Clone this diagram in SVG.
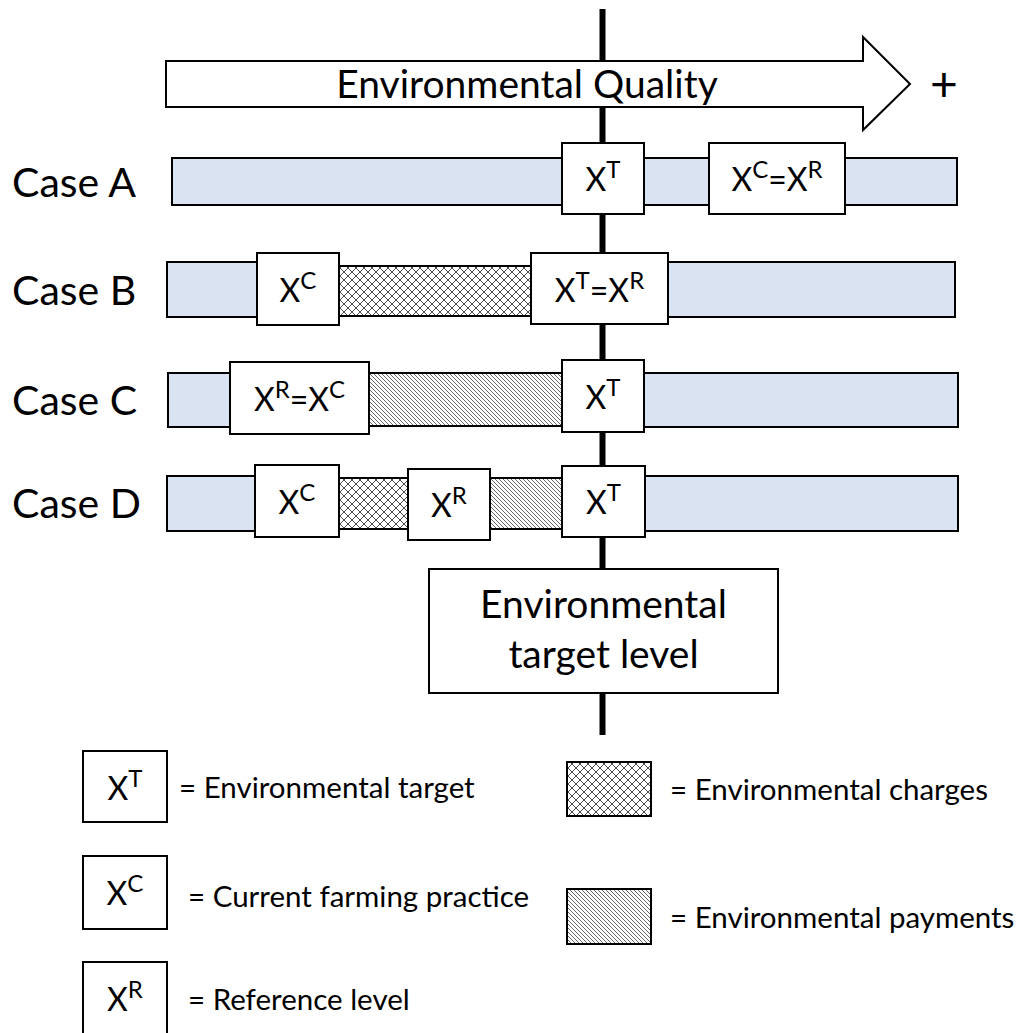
<svg xmlns="http://www.w3.org/2000/svg" width="1018" height="1033" viewBox="0 0 1018 1033">
<defs>
<pattern id="cross" patternUnits="userSpaceOnUse" width="8" height="8">
<rect width="8" height="8" fill="#fff"/>
<path d="M0,0 L8,8 M8,0 L0,8" stroke="#000" stroke-width="0.7"/>
</pattern>
<pattern id="diag" patternUnits="userSpaceOnUse" width="4" height="4">
<rect width="4" height="4" fill="#fff"/>
<path d="M-1,-1 L5,5 M-1,3 L1,5 M3,-1 L5,1" stroke="#000" stroke-width="0.6"/>
</pattern>
<style>
.bar{fill:#dae3f1;stroke:#000;stroke-width:2}
.box{fill:#fff;stroke:#000;stroke-width:2}
.gap{fill:#fff;stroke:none}
.ch{fill:url(#cross);stroke:#000;stroke-width:2}
.pay{fill:url(#diag);stroke:#000;stroke-width:2}
text{font-family:Lato,"Liberation Sans",sans-serif;fill:#000}
.lbl{font-size:32px;text-anchor:middle}
.case{font-size:41px}
.leg{font-size:29.5px}
.big{font-size:39px;text-anchor:middle}
.sup{font-size:24px}
</style>
</defs>
<rect width="1018" height="1033" fill="#fff"/>

<g id="connectors">
<line x1="602.5" y1="9" x2="602.5" y2="735" stroke="#000" stroke-width="6"/>
</g>

<g id="arrow">
<polygon points="166,61 863,61 863,37 910,84 863,130 863,107 166,107" fill="#fff" stroke="#000" stroke-width="2"/>
<text class="big" x="527" y="98">Environmental Quality</text>
<text x="944" y="101" font-size="48" text-anchor="middle">+</text>
</g>

<g id="caseA">
<text class="case" x="12" y="197">Case A</text>
<rect class="bar" x="172" y="158" width="785" height="47"/>
<g id="caseA-XT"><rect class="box" x="562" y="143" width="82" height="71"/>
<text class="lbl" x="603" y="191">X<tspan class="sup" dy="-13">T</tspan></text></g>
<g id="caseA-XCXR"><rect class="box" x="709" y="143" width="136" height="71"/>
<text class="lbl" x="777" y="191">X<tspan class="sup" dy="-13">C</tspan><tspan dy="13">=X</tspan><tspan class="sup" dy="-13">R</tspan></text></g>
</g>

<g id="caseB">
<text class="case" x="12" y="305">Case B</text>
<rect class="bar" x="167" y="262" width="788" height="55"/>
<rect class="gap" x="340" y="260" width="190" height="59"/>
<rect class="ch" x="339" y="266" width="192" height="50"/>
<g id="caseB-XC"><rect class="box" x="257" y="253" width="82" height="72"/>
<text class="lbl" x="298" y="302">X<tspan class="sup" dy="-13">C</tspan></text></g>
<g id="caseB-XTXR"><rect class="box" x="531" y="253" width="137" height="71"/>
<text class="lbl" x="599.5" y="302">X<tspan class="sup" dy="-13">T</tspan><tspan dy="13">=X</tspan><tspan class="sup" dy="-13">R</tspan></text></g>
</g>

<g id="caseC">
<text class="case" x="12" y="415">Case C</text>
<rect class="bar" x="168" y="373" width="790" height="54"/>
<rect class="gap" x="370" y="371" width="191" height="58"/>
<rect class="pay" x="369" y="373" width="193" height="53"/>
<g id="caseC-XRXC"><rect class="box" x="230" y="362" width="139" height="72"/>
<text class="lbl" x="299.5" y="411">X<tspan class="sup" dy="-13">R</tspan><tspan dy="13">=X</tspan><tspan class="sup" dy="-13">C</tspan></text></g>
<g id="caseC-XT"><rect class="box" x="562" y="360" width="82" height="72"/>
<text class="lbl" x="603" y="409">X<tspan class="sup" dy="-13">T</tspan></text></g>
</g>

<g id="caseD">
<text class="case" x="12" y="518">Case D</text>
<rect class="bar" x="167" y="476" width="791" height="55"/>
<rect class="gap" x="340" y="474" width="221" height="59"/>
<rect class="ch" x="339" y="478" width="69" height="51"/>
<rect class="pay" x="490" y="478" width="72" height="51"/>
<g id="caseD-XC"><rect class="box" x="255" y="465" width="84" height="72"/>
<text class="lbl" x="297" y="514">X<tspan class="sup" dy="-13">C</tspan></text></g>
<g id="caseD-XR"><rect class="box" x="408" y="469" width="82" height="71"/>
<text class="lbl" x="449" y="517">X<tspan class="sup" dy="-13">R</tspan></text></g>
<g id="caseD-XT"><rect class="box" x="562" y="466" width="83" height="71"/>
<text class="lbl" x="603.5" y="514">X<tspan class="sup" dy="-13">T</tspan></text></g>
</g>

<g id="target">
<rect class="box" x="429" y="569" width="349" height="124"/>
<text class="big" x="603.5" y="618">Environmental</text>
<text class="big" x="603.5" y="668">target level</text>
</g>

<g id="legend">
<g id="leg-XT"><rect class="box" x="83" y="751" width="84" height="71"/>
<text class="lbl" x="125" y="800">X<tspan class="sup" dy="-13">T</tspan></text>
<text class="leg" x="179" y="798">= Environmental target</text></g>
<g id="leg-XC"><rect class="box" x="83" y="856" width="84" height="73"/>
<text class="lbl" x="125" y="905">X<tspan class="sup" dy="-13">C</tspan></text>
<text class="leg" x="188" y="907">= Current farming practice</text></g>
<g id="leg-XR"><rect class="box" x="83" y="962" width="84" height="74"/>
<text class="lbl" x="125" y="1011">X<tspan class="sup" dy="-13">R</tspan></text>
<text class="leg" x="188" y="1010">= Reference level</text></g>
<g id="leg-charges"><rect class="ch" x="567" y="762" width="84" height="54"/>
<text class="leg" x="670" y="800">= Environmental charges</text></g>
<g id="leg-payments"><rect class="pay" x="567" y="889" width="84" height="55"/>
<text class="leg" x="670" y="928">= Environmental payments</text></g>
</g>
</svg>
